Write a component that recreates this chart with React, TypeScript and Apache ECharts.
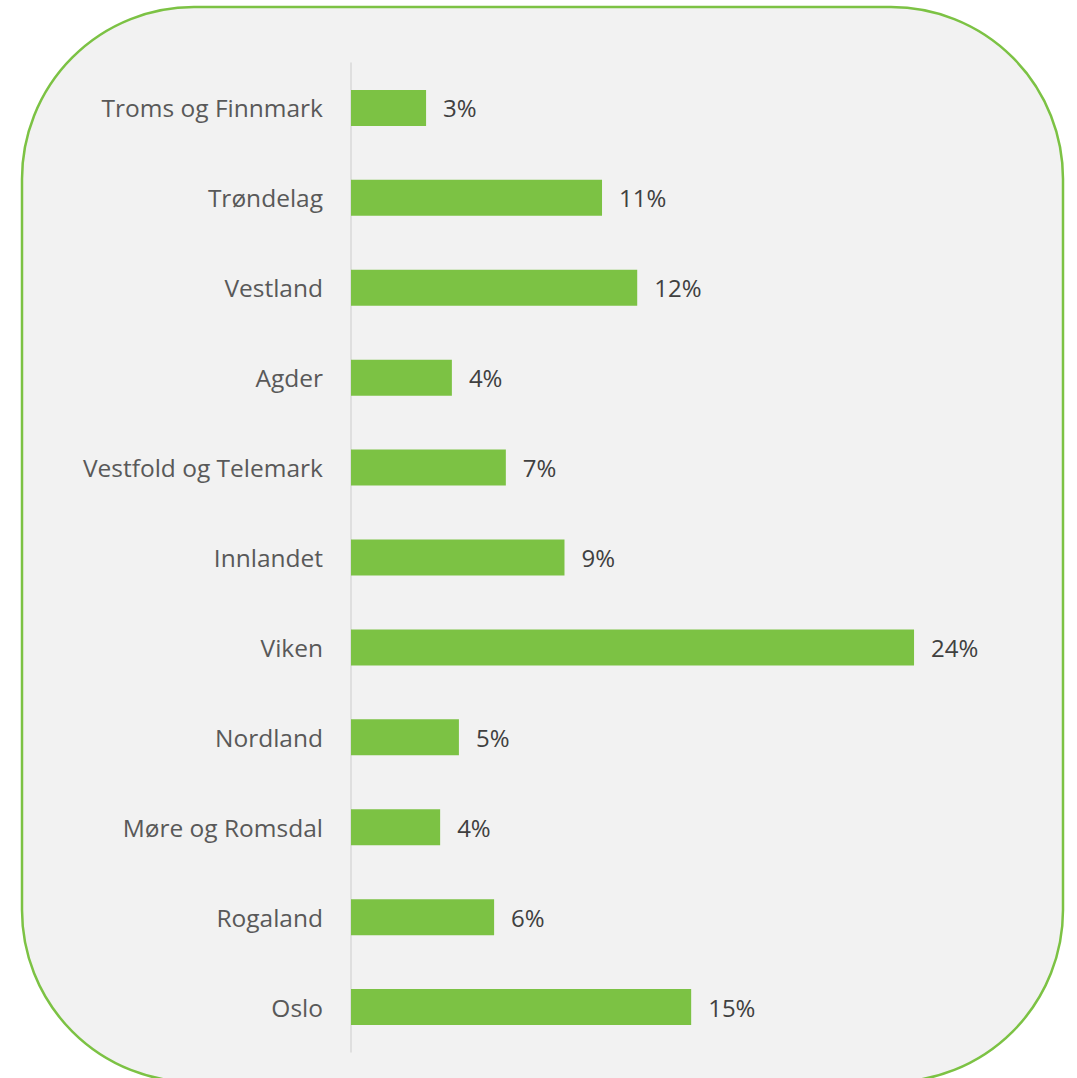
import React, { useEffect, useRef } from "react";
import * as echarts from "echarts";

const categories = [
  "Troms og Finnmark",
  "Trøndelag",
  "Vestland",
  "Agder",
  "Vestfold og Telemark",
  "Innlandet",
  "Viken",
  "Nordland",
  "Møre og Romsdal",
  "Rogaland",
  "Oslo",
];
const values = [3.2, 10.7, 12.2, 4.3, 6.6, 9.1, 24.0, 4.6, 3.8, 6.1, 14.5];

export default function App() {
  const ref = useRef<HTMLDivElement>(null);
  useEffect(() => {
    const chart = echarts.init(ref.current!, null, { renderer: "svg" });
    chart.setOption({
      animation: false,
      backgroundColor: "#ffffff",
      graphic: [
        {
          type: "rect",
          z: -10,
          silent: true,
          shape: { x: 22, y: 7, width: 1041, height: 1075, r: 172 },
          style: { fill: "#f2f2f2", stroke: "#7cc244", lineWidth: 2.5 },
        },
      ],
      grid: { left: 351, top: 63, bottom: 26, width: 586.5 },
      xAxis: {
        type: "value",
        min: 0,
        max: 25,
        show: false,
        splitLine: { show: false },
      },
      yAxis: {
        type: "category",
        data: categories,
        inverse: true,
        axisLine: { show: true, lineStyle: { color: "#d9d9d9", width: 1.5 } },
        axisTick: { show: false },
        axisLabel: {
          margin: 28,
          fontFamily: "Open Sans",
          fontSize: 24.5,
          color: "#595959",
        },
      },
      series: [
        {
          type: "bar",
          data: values,
          barWidth: 36,
          itemStyle: { color: "#7cc244" },
          label: {
            show: true,
            position: "right",
            distance: 17,
            fontFamily: "Open Sans",
            fontSize: 24,
            color: "#404040",
            formatter: (p: any) => Math.round(p.value) + "%",
          },
        },
      ],
    });
    return () => chart.dispose();
  }, []);
  return (
    <div
      ref={ref}
      style={{ position: "fixed", left: 0, top: 0, width: 1077, height: 1078 }}
    />
  );
}
